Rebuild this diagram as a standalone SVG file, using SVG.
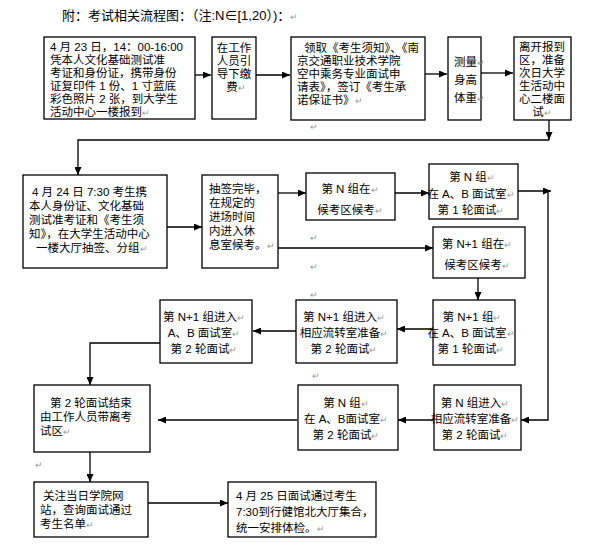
<svg xmlns="http://www.w3.org/2000/svg" width="604" height="551" viewBox="0 0 604 551">
<defs>
<marker id="ah" markerWidth="8" markerHeight="7" refX="8" refY="3.5" orient="auto" markerUnits="userSpaceOnUse">
<path d="M0,0 L8,3.5 L0,7 Z" fill="#000"/>
</marker>
<style>
.box{fill:#fff;stroke:#000;stroke-width:1.3}
.t{font-family:"Liberation Sans","Noto Sans CJK SC",sans-serif;font-size:11.5px;fill:#000}
.c{text-anchor:middle}
.pm{font-family:"Liberation Sans",sans-serif;font-size:9px;fill:#999}
.ln{fill:none;stroke:#000;stroke-width:1.3}
</style>
</defs>
<rect width="604" height="551" fill="#fff"/>
<text class="t" x="62" y="20" style="font-size:13px">附：考试相关流程图：（注:N∈[1,20）)：<tspan class="pm">↵</tspan></text>

<g id="connectors">
<line class="ln" x1="195" y1="75" x2="211" y2="75" marker-end="url(#ah)"/>
<line class="ln" x1="256" y1="75" x2="290" y2="75" marker-end="url(#ah)"/>
<line class="ln" x1="425" y1="74" x2="447" y2="74" marker-end="url(#ah)"/>
<line class="ln" x1="481" y1="73" x2="513" y2="73" marker-end="url(#ah)"/>
<line class="ln" x1="549" y1="120" x2="549" y2="140" marker-end="url(#ah)"/>
<polyline class="ln" points="549,140 78,140 78,175" marker-end="url(#ah)"/>
<line class="ln" x1="167" y1="227" x2="202" y2="227" marker-end="url(#ah)"/>
<line class="ln" x1="278" y1="193" x2="306" y2="193" marker-end="url(#ah)"/>
<line class="ln" x1="278" y1="248" x2="433" y2="248" marker-end="url(#ah)"/>
<line class="ln" x1="395" y1="193" x2="429" y2="193" marker-end="url(#ah)"/>
<line class="ln" x1="518" y1="191" x2="551" y2="191" marker-end="url(#ah)"/>
<polyline class="ln" points="548,191 548,420 521,420" marker-end="url(#ah)"/>
<line class="ln" x1="478" y1="278" x2="478" y2="300" marker-end="url(#ah)"/>
<line class="ln" x1="433" y1="329" x2="397" y2="329" marker-end="url(#ah)"/>
<line class="ln" x1="296" y1="331" x2="253" y2="331" marker-end="url(#ah)"/>
<polyline class="ln" points="160,343 90,343 90,385" marker-end="url(#ah)"/>
<line class="ln" x1="433" y1="420" x2="398" y2="420" marker-end="url(#ah)"/>
<line class="ln" x1="297" y1="420" x2="158" y2="420" marker-end="url(#ah)"/>
<line class="ln" x1="90" y1="452" x2="90" y2="482" marker-end="url(#ah)"/>
<line class="ln" x1="148" y1="503" x2="228" y2="503" marker-end="url(#ah)"/>
</g>

<g id="nA">
<rect class="box" x="44" y="37" width="151" height="82"/>
<text class="t"><tspan x="50" y="51">4 月 23 日，14：00-16:00</tspan><tspan x="50" y="64">凭本人文化基础测试准</tspan><tspan x="50" y="77">考证和身份证，携带身份</tspan><tspan x="50" y="90">证复印件 1 份、1 寸蓝底</tspan><tspan x="50" y="103">彩色照片 2 张，到大学生</tspan><tspan x="50" y="116">活动中心一楼报到</tspan><tspan class="pm">↵</tspan></text>
</g>

<g id="nB">
<rect class="box" x="212" y="37" width="44" height="82"/>
<text class="t c"><tspan x="234" y="52">在工作</tspan><tspan x="234" y="65">人员引</tspan><tspan x="234" y="78">导下缴</tspan><tspan x="236" y="91">费</tspan><tspan class="pm">↵</tspan></text>
</g>

<g id="nC">
<rect class="box" x="291" y="37" width="134" height="83"/>
<text class="t"><tspan x="304" y="52">领取《考生须知》、《南</tspan><tspan x="297" y="65">京交通职业技术学院</tspan><tspan x="297" y="78">空中乘务专业面试申</tspan><tspan x="297" y="91">请表》，签订《考生承</tspan><tspan x="297" y="104">诺保证书》</tspan><tspan class="pm">↵</tspan></text>
</g>
<text class="pm" x="310" y="130">↵</text>

<g id="nD">
<rect class="box" x="448" y="37" width="33" height="83"/>
<text class="t"><tspan x="454" y="66">测量</tspan><tspan class="pm">↵</tspan><tspan x="454" y="84">身高</tspan><tspan x="454" y="102">体重</tspan><tspan class="pm">↵</tspan></text>
</g>

<g id="nE">
<rect class="box" x="514" y="37" width="57" height="83"/>
<text class="t c"><tspan x="542" y="51">离开报到</tspan><tspan x="542" y="64">区，准备</tspan><tspan x="542" y="77">次日大学</tspan><tspan x="542" y="90">生活动中</tspan><tspan x="542" y="103">心二楼面</tspan><tspan x="542" y="116">试</tspan><tspan class="pm">↵</tspan></text>
</g>

<g id="nF">
<rect class="box" x="23" y="175" width="144" height="93"/>
<text class="t"><tspan x="32" y="196">4 月 24 日 7:30 考生携</tspan><tspan x="29" y="210">本人身份证、文化基础</tspan><tspan x="29" y="224">测试准考证和《考生须</tspan><tspan x="29" y="238">知》，在大学生活动中心</tspan><tspan x="36" y="252">一楼大厅抽签、分组</tspan><tspan class="pm">↵</tspan></text>
</g>

<g id="nG">
<rect class="box" x="202" y="175" width="76" height="93"/>
<text class="t"><tspan x="209" y="193">抽签完毕，</tspan><tspan x="209" y="207">在规定的</tspan><tspan x="209" y="221">进场时间</tspan><tspan x="209" y="235">内进入休</tspan><tspan x="209" y="249">息室候考。</tspan><tspan class="pm">↵</tspan></text>
</g>
<text class="pm" x="310" y="241">↵</text>
<text class="pm" x="310" y="270">↵</text>

<g id="nH">
<rect class="box" x="306" y="173" width="89" height="47"/>
<text class="t c"><tspan x="350" y="193">第 N 组在</tspan><tspan class="pm">↵</tspan><tspan x="350" y="214">候考区候考</tspan><tspan class="pm">↵</tspan></text>
</g>

<g id="nI">
<rect class="box" x="429" y="164" width="89" height="55"/>
<text class="t c"><tspan x="472" y="181">第 N 组</tspan><tspan class="pm">↵</tspan><tspan x="471" y="198">在 A、B 面试室</tspan><tspan class="pm">↵</tspan><tspan x="471" y="214">第 1 轮面试</tspan><tspan class="pm">↵</tspan></text>
</g>

<g id="nK">
<rect class="box" x="433" y="227" width="92" height="51"/>
<text class="t c"><tspan x="477" y="248">第 N+1 组在</tspan><tspan class="pm">↵</tspan><tspan x="477" y="269">候考区候考</tspan><tspan class="pm">↵</tspan></text>
</g>

<g id="nL">
<rect class="box" x="433" y="300" width="82" height="65"/>
<text class="t c"><tspan x="472" y="321">第 N+1 组</tspan><tspan class="pm">↵</tspan><tspan x="471" y="337">在 A、B 面试室</tspan><tspan class="pm">↵</tspan><tspan x="471" y="353">第 1 轮面试</tspan><tspan class="pm">↵</tspan></text>
</g>

<g id="nM">
<rect class="box" x="296" y="300" width="101" height="63"/>
<text class="t c"><tspan x="344" y="321">第 N+1 组进入</tspan><tspan class="pm">↵</tspan><tspan x="344" y="337">相应流转室准备</tspan><tspan class="pm">↵</tspan><tspan x="344" y="353">第 2 轮面试</tspan><tspan class="pm">↵</tspan></text>
</g>
<text class="pm" x="310" y="298">↵</text>

<g id="nN1">
<rect class="box" x="160" y="300" width="92" height="63"/>
<text class="t c"><tspan x="204" y="321">第 N+1 组进入</tspan><tspan class="pm">↵</tspan><tspan x="204" y="337">A、B 面试室</tspan><tspan class="pm">↵</tspan><tspan x="204" y="353">第 2 轮面试</tspan><tspan class="pm">↵</tspan></text>
</g>

<g id="nP">
<rect class="box" x="34" y="385" width="116" height="67"/>
<text class="t"><tspan x="50" y="407">第 2 轮面试结束</tspan><tspan x="40" y="421">由工作人员带离考</tspan><tspan x="40" y="435">试区</tspan><tspan class="pm">↵</tspan></text>
</g>

<g id="nQ">
<rect class="box" x="298" y="385" width="100" height="65"/>
<text class="t c"><tspan x="346" y="407">第 N 组</tspan><tspan class="pm">↵</tspan><tspan x="346" y="423">在 A、B面试室</tspan><tspan class="pm">↵</tspan><tspan x="346" y="439">第 2 轮面试</tspan><tspan class="pm">↵</tspan></text>
</g>
<text class="pm" x="312" y="379">↵</text>

<g id="nR">
<rect class="box" x="434" y="385" width="87" height="65"/>
<text class="t c"><tspan x="475" y="407">第 N 组进入</tspan><tspan class="pm">↵</tspan><tspan x="475" y="423">相应流转室准备</tspan><tspan class="pm">↵</tspan><tspan x="475" y="439">第 2 轮面试</tspan><tspan class="pm">↵</tspan></text>
</g>

<text class="pm" x="35" y="468">↵</text>
<g id="nS">
<rect class="box" x="34" y="482" width="114" height="55"/>
<text class="t"><tspan x="43" y="500">关注当日学院网</tspan><tspan x="40" y="514">站，查询面试通过</tspan><tspan x="40" y="528">考生名单</tspan><tspan class="pm">↵</tspan></text>
</g>

<g id="nT">
<rect class="box" x="228" y="482" width="148" height="55"/>
<text class="t"><tspan x="236" y="500">4 月 25 日面试通过考生</tspan><tspan x="236" y="516">7:30到行健馆北大厅集合，</tspan><tspan x="236" y="532">统一安排体检。</tspan><tspan class="pm">↵</tspan></text>
</g>
</svg>
